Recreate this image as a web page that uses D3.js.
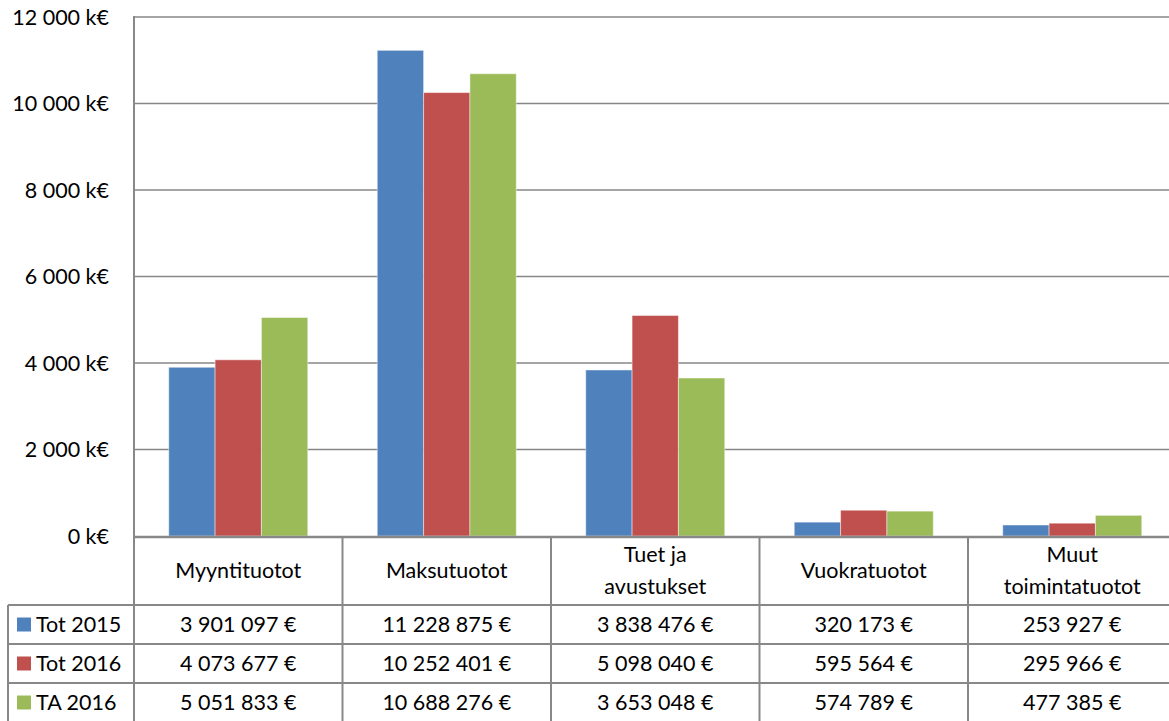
<!DOCTYPE html>
<html>
<head>
<meta charset="utf-8">
<script src="https://cdn.jsdelivr.net/npm/d3@7"></script>
<style>
  body { margin: 0; background: white; }
  svg { display: block; }
</style>
</head>
<body>
<div id="graph-container"></div>
<script>
const categories = [['Myyntituotot'], ['Maksutuotot'], ['Tuet ja', 'avustukset'], ['Vuokratuotot'], ['Muut', 'toimintatuotot']];
const seriesNames = ['Tot 2015', 'Tot 2016', 'TA 2016'];
const tot2015 = [3901097, 11228875, 3838476, 320173, 253927];
const tot2016 = [4073677, 10252401, 5098040, 595564, 295966];
const ta2016 = [5051833, 10688276, 3653048, 574789, 477385];
const yTicks = [0, 2000, 4000, 6000, 8000, 10000, 12000];
const colors = ['#4F81BD', '#C0504D', '#9BBB59'];

const main = () => {
  const width = 1169;
  const height = 721;
  const FONT = 'Lato, "Open Sans", sans-serif';
  const FS = 21.5;
  const plot = { left: 134, top: 17, bottom: 536, colW: 208.5 };
  const rows = [605, 644, 683, 722];
  const legendLeft = 8;
  const seriesData = [tot2015, tot2016, ta2016];
  const keys = categories.map((c) => c.join(' '));

  const fmt = (v) => d3.format(',')(v).replace(/,/g, ' ') + ' €';

  const svg = d3.select('#graph-container').append('svg')
    .attr('width', width)
    .attr('height', height);

  const xScale = d3.scaleBand()
    .domain(keys)
    .range([plot.left, plot.left + plot.colW * keys.length]);
  // gap width 150% -> inner 3 bars
  const barW = xScale.bandwidth() / 4.5;
  const xInner = d3.scaleBand().domain(seriesNames).range([0, barW * 3]);
  const yScale = d3.scaleLinear().domain([0, 12000]).range([plot.bottom, plot.top]);

  // gridlines
  svg.append('g').selectAll('line.grid')
    .data(yTicks.filter((d) => d > 0))
    .join('line')
    .attr('class', 'grid')
    .attr('x1', plot.left).attr('x2', width)
    .attr('y1', (d) => yScale(d)).attr('y2', (d) => yScale(d))
    .attr('stroke', '#878787').attr('stroke-width', 1.5);

  // y labels
  svg.append('g').selectAll('text.ytick')
    .data(yTicks)
    .join('text')
    .attr('class', 'ytick')
    .attr('x', 109)
    .attr('y', (d) => yScale(d))
    .attr('dy', '0.35em')
    .attr('text-anchor', 'end')
    .attr('font-family', FONT)
    .attr('font-size', FS)
    .attr('fill', '#000')
    .text((d) => d3.format(',')(d).replace(/,/g, ' ') + ' k€');

  // bars
  seriesData.forEach((vals, s) => {
    svg.append('g').selectAll('rect')
      .data(vals)
      .join('rect')
      .attr('x', (d, i) => xScale(keys[i]) + barW * 0.75 + xInner(seriesNames[s]))
      .attr('y', (d) => yScale(d / 1000))
      .attr('width', xInner.bandwidth())
      .attr('height', (d) => plot.bottom - yScale(d / 1000))
      .attr('fill', colors[s])
      .attr('stroke', 'rgba(255,255,255,0.45)')
      .attr('stroke-width', 1);
  });

  const lineCol = '#888888';
  const table = svg.append('g');

  // axis lines
  table.append('line')
    .attr('x1', plot.left).attr('x2', plot.left)
    .attr('y1', plot.top - 1).attr('y2', height)
    .attr('stroke', lineCol).attr('stroke-width', 2);
  table.append('line')
    .attr('x1', plot.left).attr('x2', width)
    .attr('y1', plot.bottom + 1).attr('y2', plot.bottom + 1)
    .attr('stroke', lineCol).attr('stroke-width', 2.5);

  // column separators
  table.selectAll('line.col')
    .data(keys.slice(1))
    .join('line')
    .attr('class', 'col')
    .attr('x1', (d) => xScale(d)).attr('x2', (d) => xScale(d))
    .attr('y1', plot.bottom + 1).attr('y2', height)
    .attr('stroke', lineCol).attr('stroke-width', 2);

  // row lines
  table.selectAll('line.row')
    .data(rows.slice(0, 3))
    .join('line')
    .attr('class', 'row')
    .attr('x1', legendLeft).attr('x2', width)
    .attr('y1', (d) => d).attr('y2', (d) => d)
    .attr('stroke', lineCol).attr('stroke-width', 2);
  table.append('line')
    .attr('x1', legendLeft).attr('x2', legendLeft)
    .attr('y1', rows[0]).attr('y2', height)
    .attr('stroke', lineCol).attr('stroke-width', 2);

  // category headers
  categories.forEach((c, i) => {
    const cx = xScale(keys[i]) + xScale.bandwidth() / 2;
    const mid = (plot.bottom + rows[0]) / 2;
    const t = table.append('text')
      .attr('x', cx)
      .attr('text-anchor', 'middle')
      .attr('font-family', FONT)
      .attr('font-size', FS)
      .attr('fill', '#000');
    c.forEach((line, j) => {
      t.append('tspan')
        .attr('x', cx)
        .attr('y', mid + (j - (c.length - 1) / 2) * 32)
        .attr('dy', '0.35em')
        .text(line);
    });
  });

  // value cells
  seriesData.forEach((vals, s) => {
    const cy = (rows[s] + rows[s + 1]) / 2;
    table.append('g').selectAll('text')
      .data(vals)
      .join('text')
      .attr('x', (d, i) => xScale(keys[i]) + xScale.bandwidth() / 2)
      .attr('y', cy)
      .attr('dy', '0.35em')
      .attr('text-anchor', 'middle')
      .attr('font-family', FONT)
      .attr('font-size', FS)
      .attr('fill', '#000')
      .text((d) => fmt(d));

    table.append('rect')
      .attr('x', 17).attr('y', cy - 7)
      .attr('width', 14).attr('height', 14)
      .attr('fill', colors[s]);
    table.append('text')
      .attr('x', 36).attr('y', cy)
      .attr('dy', '0.35em')
      .attr('font-family', FONT)
      .attr('font-size', FS)
      .attr('fill', '#000')
      .text(seriesNames[s]);
  });
};

main();
</script>
</body>
</html>
